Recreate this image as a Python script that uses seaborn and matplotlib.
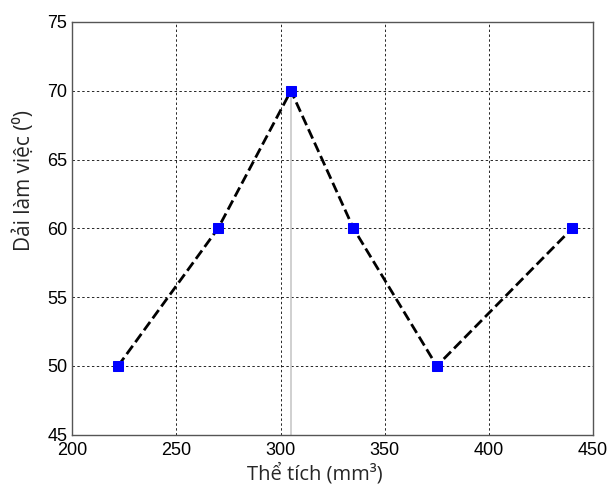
import matplotlib
matplotlib.use("Agg")
import matplotlib.pyplot as plt
import seaborn as sns
import pandas as pd

the_tich = [222, 270, 305, 335, 375, 440]
dai_lam_viec = [50, 60, 70, 60, 50, 60]
x_ticks = [200, 250, 300, 350, 400, 450]
y_ticks = [45, 50, 55, 60, 65, 70, 75]
peak_x = 305
peak_y = 70

sns.set_style("white")
plt.rcParams['font.family'] = ['Liberation Sans', 'DejaVu Sans']

df = pd.DataFrame({"x": the_tich, "y": dai_lam_viec})

fig = plt.figure(figsize=(6.12, 4.88), dpi=100)
ax = fig.add_axes([0.118, 0.109, 0.851, 0.846])

ax.set_xlim(200, 450)
ax.set_ylim(45, 75)
ax.set_xticks(x_ticks)
ax.set_yticks(y_ticks)
ax.grid(True, color='black', linestyle=(0, (2.5, 2.5)), linewidth=0.7, alpha=0.85)
ax.set_axisbelow(True)

ax.vlines(peak_x, 45, peak_y, color='#c8c8c8', linewidth=1.2, zorder=1)

sns.lineplot(data=df, x="x", y="y", ax=ax, color='black', linestyle='--',
             linewidth=2.0, marker='s', markersize=7, markerfacecolor='#0000ff',
             markeredgecolor='#0000ff', zorder=3, sort=False)

for s in ax.spines.values():
    s.set_color('#555555')
    s.set_linewidth(1.0)

ax.tick_params(axis='both', labelsize=13, colors='#555555', labelcolor='black',
               direction='in', length=0)
ax.tick_params(axis='x', pad=5)
ax.tick_params(axis='y', pad=3.5)

lab_font = ['Open Sans', 'DejaVu Sans']
ax.set_xlabel("Thể tích (mm³)", fontsize=14.5, family=lab_font)
ax.set_ylabel("Dải làm việc (⁰)", fontsize=15, family=lab_font)
ax.xaxis.set_label_coords(0.466, -0.068)
ax.yaxis.set_label_coords(-0.072, 0.617)

fig.savefig("out.png", dpi=100)
